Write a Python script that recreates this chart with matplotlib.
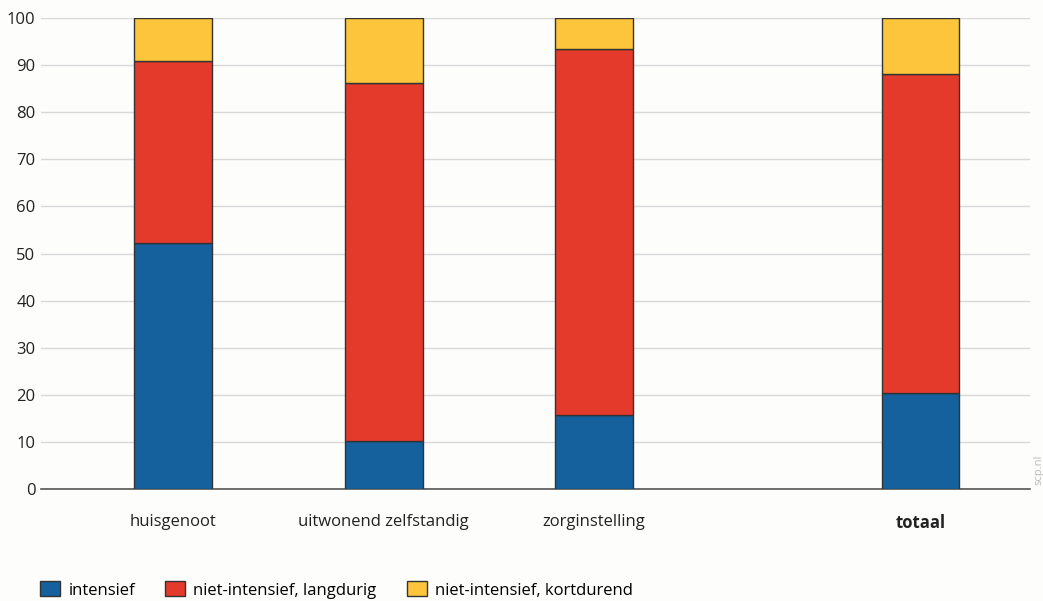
import matplotlib
matplotlib.use("Agg")
import matplotlib.pyplot as plt
from matplotlib.patches import Patch
import numpy as np

categories = ["huisgenoot", "uitwonend zelfstandig", "zorginstelling", "totaal"]
intensief = [52.2, 10.2, 15.7, 20.4]
langdurig = [38.7, 76.0, 77.7, 67.7]
kortdurend = [9.1, 13.8, 6.6, 11.9]
series_names = ["intensief", "niet-intensief, langdurig", "niet-intensief, kortdurend"]
colors = ["#15619e", "#e43a2b", "#fcc53b"]
yticks = [0, 10, 20, 30, 40, 50, 60, 70, 80, 90, 100]

plt.rcParams['font.family'] = ['Open Sans', 'DejaVu Sans']

fig = plt.figure(figsize=(10.43, 6.01), dpi=100)
fig.patch.set_facecolor("#fdfdfc")
ax = fig.add_axes([41/1043, 1-489/601, (1030-41)/1043, (489-18)/601])
ax.set_facecolor("#fdfdfc")

x = np.array([0, 1, 2, 3.55])
w = 0.37
b1 = np.array(intensief)
b2 = b1 + np.array(langdurig)
ax.bar(x, intensief, w, color=colors[0], edgecolor="#333333", linewidth=1, zorder=3)
ax.bar(x, langdurig, w, bottom=b1, color=colors[1], edgecolor="#333333", linewidth=1, zorder=3)
ax.bar(x, kortdurend, w, bottom=b2, color=colors[2], edgecolor="#333333", linewidth=1, zorder=3)

ax.set_xlim(-0.627, 4.07)
ax.set_ylim(0, 100)
ax.set_yticks(yticks)
ax.set_yticklabels([str(v) for v in yticks], fontsize=12, color="#222222")
ax.yaxis.grid(True, color="#d9d9d9", linewidth=1, zorder=0)
ax.tick_params(axis='y', length=0, pad=4)
ax.tick_params(axis='x', length=0, pad=18)
ax.set_xticks(x)
ax.set_xticklabels(categories, fontsize=12, color="#222222")
ax.get_xticklabels()[3].set_fontweight("bold")
for s in ["top", "right", "left"]:
    ax.spines[s].set_visible(False)
ax.spines["bottom"].set_color("#555555")
ax.spines["bottom"].set_linewidth(1.2)

fig.text(1039/1043, 1-470/601, "scp.nl", rotation=90, fontsize=8, color="#bbbbbb",
         ha="center", va="center")

handles = [Patch(facecolor=c, edgecolor="#333333", label=n) for c, n in zip(colors, series_names)]
fig.legend(handles=handles, loc="center left", bbox_to_anchor=(25/1043, 1-590/601), ncol=3,
           frameon=False, fontsize=12, handlelength=1.2, handleheight=1.0,
           columnspacing=1.8, handletextpad=0.5)

fig.savefig("out.png", dpi=100, facecolor=fig.get_facecolor())
